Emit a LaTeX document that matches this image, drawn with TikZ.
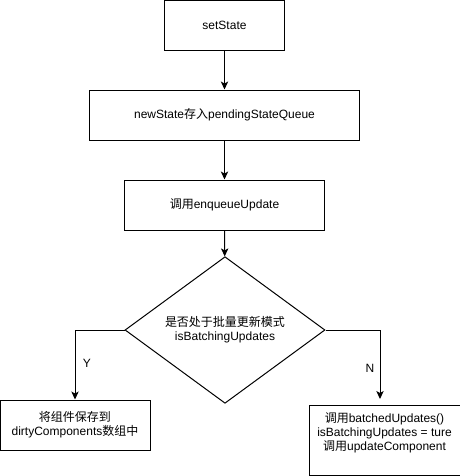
\documentclass[tikz,border=0pt]{standalone}
\usepackage{fontspec}
\setmainfont{Liberation Sans}
\newfontfamily\cjk{Noto Sans CJK SC}
\newcommand\zh[1]{{\cjk #1}}
\usetikzlibrary{shapes.geometric,arrows.meta}
\begin{document}
\begin{tikzpicture}[x=0.75pt,y=-0.75pt,
  every node/.style={font=\fontsize{9}{10.5}\selectfont},
  box/.style={draw=black,line width=0.75pt,rectangle,inner sep=0pt,align=center,minimum height=37.5pt},
  decision/.style={draw=black,line width=0.75pt,diamond,inner sep=0pt,align=center,minimum width=150pt,minimum height=75pt},
  conn/.style={draw=black,line width=0.75pt,-{Stealth[length=6pt,width=5.5pt,inset=1.5pt]}},
  lbl/.style={inner sep=0pt}]
\useasboundingbox (0,0) rectangle (460,476);
\node[box,minimum width=90pt] (a) at (224.5,25) {setState};
\node[box,minimum width=202.5pt] (b) at (224.5,115) {newState\zh{存入}pendingStateQueue};
\node[box,minimum width=150pt] (c) at (224.5,205) {\zh{调用}enqueueUpdate};
\node[decision] (d) at (225,330) {\zh{是否处于批量更新模式}\\isBatchingUpdates};
\node[box,minimum width=112.5pt] (l) at (75,425) {\zh{将组件保存到}\\dirtyComponents\zh{数组中}};
\node[box,minimum width=113.25pt,minimum height=52.5pt] (r) at (384.5,440) {};
\node[lbl,align=center] (rt) at (384.5,433) {\zh{调用}batchedUpdates()\\isBatchingUpdates = ture\\\zh{调用}updateComponent};
\coordinate (rn) at (380,399);
\draw[conn] (a) -- (b);
\draw[conn] (b) -- (c);
\draw[conn] (c) -- (d);
\draw[conn] (d.west) -| (l.north);
\draw[conn] (d.east) -| (rn);
\node[lbl] (ly) at (87,363) {Y};
\node[lbl] (ln) at (370,368) {N};
\end{tikzpicture}
\end{document}
